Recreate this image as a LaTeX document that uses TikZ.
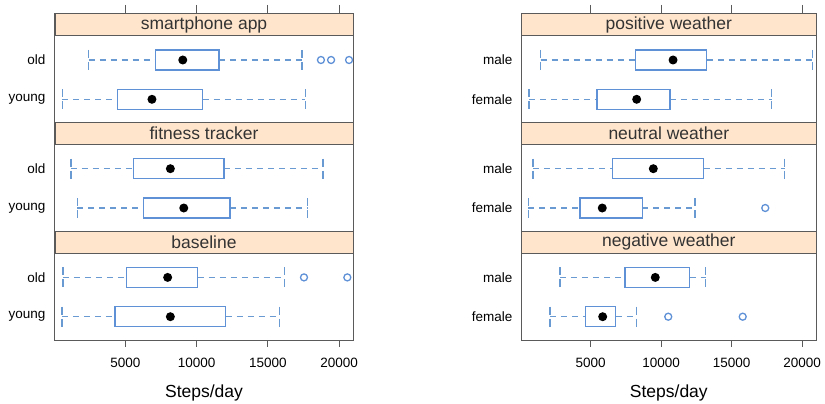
\documentclass[tikz,border=0pt]{standalone}
\usepackage{fontspec}
\setmainfont{Liberation Sans}
\usepackage{tikz}
\usetikzlibrary{positioning}

\definecolor{stripbg}{HTML}{FFE5CC}
\definecolor{boxblue}{RGB}{95,145,215}
\definecolor{whiskblue}{RGB}{105,155,210}
\definecolor{framegray}{RGB}{90,90,90}

% y, low whisker, q1, median, q3, high whisker
\newcommand{\bxp}[6]{%
    \draw[whisker] (#2,#1) -- (#3,#1) (#5,#1) -- (#6,#1);
    \draw[whiskcap] (#2,#1-10) -- (#2,#1+10) (#6,#1-10) -- (#6,#1+10);
    \draw[boxrect] (#3,#1-10) rectangle (#5,#1+10);
    \fill (#4,#1) circle (4.5pt);
}

\begin{document}
\begin{tikzpicture}[x=1pt,y=-1pt,
    frame/.style={draw=framegray,line width=1pt},
    strip/.style={draw=framegray,line width=1pt,fill=stripbg,minimum height=21.7pt,inner sep=0pt,font=\fontsize{17.5}{17.5}\selectfont,text=black!80},
    whisker/.style={color=whiskblue,line width=1.3pt,dash pattern=on 6pt off 5pt},
    whiskcap/.style={color=whiskblue,line width=1.3pt,dash pattern=on 8pt off 4pt},
    boxrect/.style={color=boxblue,line width=1.3pt},
    outlier/.style={color=boxblue,line width=1.3pt},
    rowlab/.style={font=\fontsize{13.5}{13.5}\selectfont,inner sep=0pt},
    ticklab/.style={font=\fontsize{13.5}{13.5}\selectfont,inner sep=0pt},
    axlab/.style={font=\fontsize{17.5}{17.5}\selectfont,inner sep=0pt}]
    \useasboundingbox (0,0) rectangle (825,404);

    % left panel: group
    \begin{scope}[xshift=54pt,x=14.26pt]
        \foreach \k/\lab in {0/smartphone app,1/fitness tracker,2/baseline}{
            \draw[frame] (0.07,14+\k*108.7) rectangle (20.97,122.7+\k*108.7);
            \node[strip,minimum width=298pt] (stripL\k) at (10.52,24.85+\k*108.7) {\lab};
            \node[rowlab,left=9.3pt] (oldL\k) at (0.07,60+\k*108.7) {old};
            \node[rowlab,left=9.3pt] (youngL\k) at (0.07,99.3+\k*108.7) {young};
        }
        \foreach \t in {5,10,15,20}{
            \draw[frame] (\t,5) -- (\t,14);
            \draw[frame] (\t,340.1) -- (\t,347);
            \node[ticklab] (tickL\t) at (\t,363) {\t000};
        }
        \node[axlab] (xlabL) at (10.52,393) {Steps/day};
        \begin{scope}
            \clip (0.07,14) rectangle (20.97,340.1);
            \bxp{60}{2.43}{7.13}{9.03}{11.57}{17.39}
            \bxp{99.3}{0.58}{4.44}{6.87}{10.43}{17.62}
            \bxp{168.7}{1.19}{5.56}{8.16}{11.92}{18.86}
            \bxp{208}{1.63}{6.26}{9.10}{12.34}{17.76}
            \bxp{277.4}{0.63}{5.10}{7.97}{10.08}{16.15}
            \bxp{316.7}{0.56}{4.28}{8.16}{12.04}{15.80}
            \foreach \o in {18.72,19.43,20.69} \draw[outlier] (\o,60) circle (3.5pt);
            \foreach \o in {17.53,20.57} \draw[outlier] (\o,277.4) circle (3.5pt);
        \end{scope}
    \end{scope}

    % right panel: weather
    \begin{scope}[xshift=520.2pt,x=14.1pt]
        \foreach \k/\lab in {0/positive weather,1/neutral weather,2/negative weather}{
            \draw[frame] (0.1,14+\k*108.7) rectangle (20.98,122.7+\k*108.7);
            \node[strip,minimum width=294.4pt] (stripR\k) at (10.54,24.85+\k*108.7) {\lab};
            \node[rowlab,left=9pt] (maleR\k) at (0.1,60+\k*108.7) {male};
            \node[rowlab,left=9pt] (femaleR\k) at (0.1,99.3+\k*108.7) {female};
        }
        \foreach \t in {5,10,15,20}{
            \draw[frame] (\t,5) -- (\t,14);
            \draw[frame] (\t,340.1) -- (\t,347);
            \node[ticklab] (tickR\t) at (\t,363) {\t000};
        }
        \node[axlab] (xlabR) at (10.54,393) {Steps/day};
        \begin{scope}
            \clip (0.1,14) rectangle (20.98,340.1);
            \bxp{60}{1.45}{8.16}{10.84}{13.23}{20.72}
            \bxp{99.3}{0.62}{5.45}{8.26}{10.62}{17.84}
            \bxp{168.7}{0.91}{6.56}{9.44}{13.01}{18.76}
            \bxp{208}{0.57}{4.24}{5.82}{8.66}{12.40}
            \bxp{277.4}{2.82}{7.43}{9.58}{12.02}{13.16}
            \bxp{316.7}{2.11}{4.65}{5.85}{6.77}{8.26}
            \draw[outlier] (17.38,208) circle (3.5pt);
            \foreach \o in {10.50,15.78} \draw[outlier] (\o,316.7) circle (3.5pt);
        \end{scope}
    \end{scope}
\end{tikzpicture}
\end{document}
